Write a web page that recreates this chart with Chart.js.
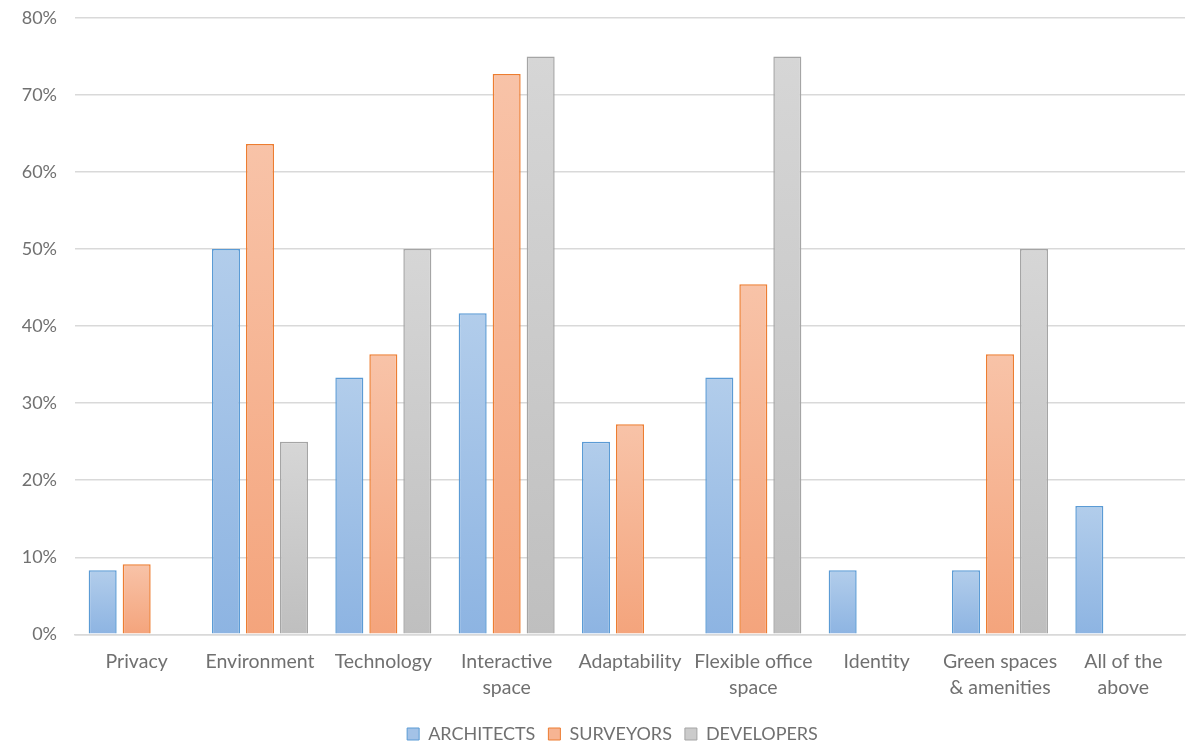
<!DOCTYPE html>
<html>
<head>
<meta charset="utf-8">
<script src="https://cdn.jsdelivr.net/npm/chart.js@4"></script>
<style>
  html, body { margin: 0; padding: 0; background: #fff; }
  #wrap { width: 1191px; height: 743px; }
</style>
</head>
<body>
<div id="wrap"><canvas id="surveyChart"></canvas></div>
<script>
// categories + series (percent of respondents)
const categories = [
  "Privacy", "Environment", "Technology", ["Interactive", "space"], "Adaptability",
  ["Flexible office", "space"], "Identity", ["Green spaces", "& amenities"], ["All of the", "above"]
];
const architects = [8.33, 50, 33.33, 41.67, 25, 33.33, 8.33, 8.33, 16.67];
const surveyors  = [9.09, 63.64, 36.36, 72.73, 27.27, 45.45, 0, 36.36, 0];
const developers = [0, 25, 50, 75, 0, 75, 0, 50, 0];
const yTicks = [0, 10, 20, 30, 40, 50, 60, 70, 80];

// gradient per bar: light at top, darker at bottom
function barGradient(top, bottom) {
  return (ctx) => {
    const chart = ctx.chart;
    if (!chart.chartArea || ctx.type !== "data") return bottom;
    const y = chart.scales.y;
    const yTop = y.getPixelForValue(ctx.parsed.y);
    const yBase = y.getPixelForValue(0);
    if (!isFinite(yTop) || yBase - yTop < 1) return bottom;
    const g = chart.ctx.createLinearGradient(0, yTop, 0, yBase);
    g.addColorStop(0, top);
    g.addColorStop(1, bottom);
    return g;
  };
}

// legend sits a bit right of canvas centre (centred under the plot)
const shiftLegend = {
  id: "shiftLegend",
  afterLayout(chart) {
    const lg = chart.legend;
    if (!lg) return;
    lg.left += 20;
    lg.right += 20;
    if (lg.legendHitBoxes) lg.legendHitBoxes.forEach(b => { b.left += 20; });
  }
};

Chart.defaults.font.family = "Lato, 'Open Sans', sans-serif";
Chart.defaults.font.size = 18;
Chart.defaults.color = "#707070";

new Chart(document.getElementById("surveyChart").getContext("2d"), {
  type: "bar",
  data: {
    labels: categories,
    datasets: [{
      label: "ARCHITECTS",
      data: architects,
      backgroundColor: barGradient("#b2cdeb", "#8db4e2"),
      borderColor: "#5b9bd5",
      borderWidth: 1.5
    }, {
      label: "SURVEYORS",
      data: surveyors,
      backgroundColor: barGradient("#f8c3a8", "#f4a47c"),
      borderColor: "#ed7d31",
      borderWidth: 1.5
    }, {
      label: "DEVELOPERS",
      data: developers,
      backgroundColor: barGradient("#d6d6d6", "#bfbfbf"),
      borderColor: "#a5a5a5",
      borderWidth: 1.5
    }]
  },
  plugins: [shiftLegend],
  options: {
    responsive: true,
    maintainAspectRatio: false,
    animation: false,
    categoryPercentage: 0.827,
    barPercentage: 0.824,
    layout: { padding: { top: 18, right: 6, left: 0, bottom: -10 } },
    plugins: {
      legend: {
        position: "bottom",
        labels: {
          boxWidth: 12,
          boxHeight: 12,
          padding: 13,
          color: "#707070",
          generateLabels: (chart) => chart.data.datasets.map((ds, i) => ({
            text: ds.label,
            fillStyle: ["#a3c2e7", "#f6b493", "#cbcbcb"][i],
            strokeStyle: ds.borderColor,
            lineWidth: 1,
            datasetIndex: i,
            fontColor: "#707070"
          }))
        }
      },
      tooltip: { enabled: false }
    },
    scales: {
      x: {
        grid: { display: false },
        border: { color: "#d9d9d9", width: 1.5 },
        afterFit: (scale) => { scale.height += 5; },
        ticks: { padding: 7, maxRotation: 0, autoSkip: false, font: { size: 19.5, lineHeight: 1.3 } }
      },
      y: {
        min: 0,
        max: 80,
        afterBuildTicks: (scale) => { scale.ticks = yTicks.map(v => ({ value: v })); },
        afterFit: (scale) => { scale.width = 75; scale.paddingTop = 0; },
        grid: { color: "#d9d9d9", lineWidth: 1.5, drawTicks: false },
        border: { display: false },
        ticks: { padding: 18, callback: v => v + "%" }
      }
    }
  }
});
</script>
</body>
</html>
